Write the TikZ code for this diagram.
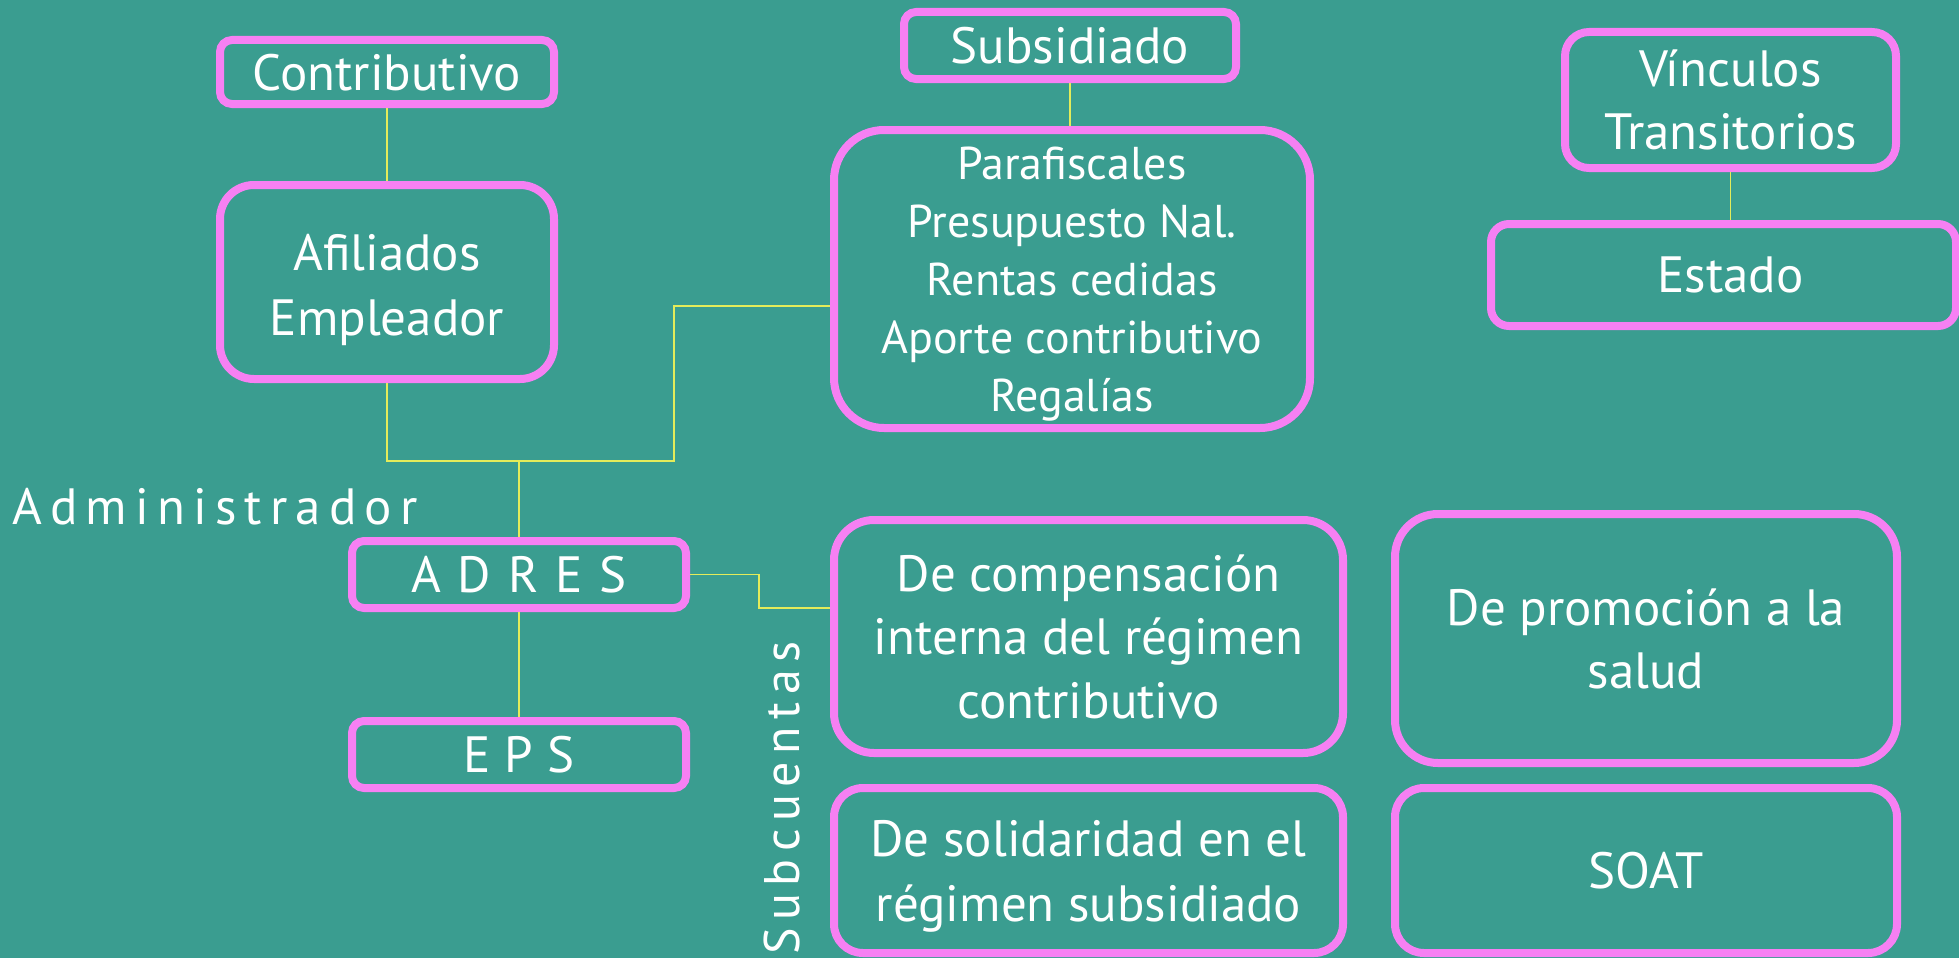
\documentclass[tikz,border=0pt]{standalone}
\usepackage{fontspec}
\setmainfont{PT Sans}
\usetikzlibrary{calc}
\definecolor{bg}{HTML}{3A9D90}
\definecolor{pk}{HTML}{F680F3}
\definecolor{ln}{HTML}{E4EC5A}
\begin{document}
\begin{tikzpicture}[x=1pt,y=-1pt,
  box/.style={draw=pk, line width=8pt, rectangle, align=center, text=white, inner sep=0pt,
              text depth=0pt, font=\fontsize{51}{65}\selectfont},
  txt/.style={text=white, align=center, inner sep=0pt, font=\fontsize{51}{65}\selectfont},
  conn/.style={draw=ln, line width=1.6pt},
  lbl/.style={text=white, inner sep=0pt, font=\fontsize{51}{60}\selectfont\addfontfeatures{LetterSpace=16}}]
\fill[bg] (0,0) rectangle (1959,958);
\useasboundingbox (0,0) rectangle (1959,958);

% boxes
\node[box, minimum width=334pt, minimum height=64pt, rounded corners=12pt] (contrib) at (387,72) {Contributivo};
\node[box, minimum width=334pt, minimum height=194pt, rounded corners=34pt] (afil) at (387,282) {};
\node[txt] (afiltxt) at ([yshift=-8pt]afil.center) {Afiliados\\Empleador};
\node[box, minimum width=332pt, minimum height=67pt, rounded corners=12pt] (subs) at (1070,45.5) {Subsidiado};
\node[box, minimum width=476pt, minimum height=298pt, rounded corners=50pt,
      font=\fontsize{46}{58}\selectfont] (para) at (1072,279)
      {Parafiscales\\Presupuesto Nal.\\Rentas cedidas\\Aporte contributivo\\Regalías};
\node[box, minimum width=331pt, minimum height=136pt, rounded corners=24pt,
      font=\fontsize{51}{63}\selectfont] (vinc) at (1730.5,100) {Vínculos\\Transitorios};
\node[box, minimum width=465pt, minimum height=102pt, rounded corners=18pt] (estado) at (1723.5,275) {\hspace*{14pt}Estado};
\node[box, minimum width=334pt, minimum height=67pt, rounded corners=12pt] (adres) at (519,574.5) {A\,\,D\,\,R\,\,E\,\,S};
\node[box, minimum width=334pt, minimum height=67pt, rounded corners=12pt] (eps) at (519,754.5) {E P S};
\node[box, minimum width=509pt, minimum height=233pt, rounded corners=40pt,
      font=\fontsize{51}{63.5}\selectfont] (comp) at (1088.5,636.5)
      {De compensación\\interna del régimen\\contributivo};
\node[box, minimum width=509pt, minimum height=165pt, rounded corners=29pt] (solid) at (1088.5,870.5)
      {De solidaridad en el\\régimen subsidiado};
\node[box, minimum width=502pt, minimum height=249pt, rounded corners=43pt,
      font=\fontsize{51}{63}\selectfont] (promo) at (1646,638.5) {De promoción a la\\salud};
\node[box, minimum width=502pt, minimum height=165pt, rounded corners=29pt] (soat) at (1646,870.5) {SOAT};

% labels
\node[lbl, anchor=base west] (admin) at (12,524) {Administrador};
\node[lbl, rotate=90, font=\fontsize{50}{60}\selectfont\addfontfeatures{LetterSpace=15}] (subc) at (782,798) {Subcuentas};

% connector points
\coordinate (jl) at (387,461);
\coordinate (jr) at (674,461);
\coordinate (jt) at (674,306);
\coordinate (pin) at ([yshift=-27pt]para.west);
\coordinate (em) at (759,574.5);
\coordinate (cin) at ([yshift=28.5pt]comp.west);

% connectors
\draw[conn] (contrib.south) -- (afil.north);
\draw[conn] (afil.south) -- (jl) -- (jr) -- (jt) -- (pin);
\draw[conn] (adres.north) -- (adres.north |- jl);
\draw[conn] (subs.south) -- (subs.south |- para.north);
\draw[conn] (vinc.south) -- (vinc.south |- estado.north);
\draw[conn] (adres.south) -- (eps.north);
\draw[conn] (adres.east) -- (em) -- (em |- cin) -- (cin);
\end{tikzpicture}
\end{document}
